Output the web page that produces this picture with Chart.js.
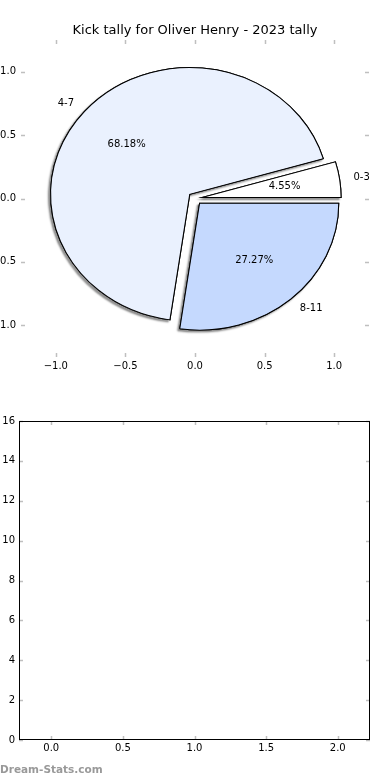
<!DOCTYPE html>
<html>
<head>
<meta charset="utf-8">
<script src="https://cdn.jsdelivr.net/npm/chart.js@4.4.0/dist/chart.umd.min.js"></script>
<style>
    body { margin: 0; background: #fff; width: 390px; height: 780px; position: relative; overflow: hidden; }
    .box { position: absolute; left: 0; width: 390px; height: 390px; }
    #pie-box { top: 0; }
    #empty-box { top: 390px; }
    #credit { position: absolute; left: 0; top: 763px; font: bold 10.5px 'DejaVu Sans', sans-serif; color: #999; }
</style>
</head>
<body>
<div class="box" id="pie-box"><canvas id="pie-chart"></canvas></div>
<div class="box" id="empty-box"><canvas id="empty-chart"></canvas></div>
<div id="credit">Dream-Stats.com</div>
<script>
const chartTitle = 'Kick tally for Oliver Henry - 2023 tally';
const kickRanges = ['0-3', '4-7', '8-11'];
const kickCounts = [1, 15, 6];
const sliceColors = ['#ffffff', '#eaf1fe', '#c5d9fe'];
const explode = [0.05, 0.05, 0.05];
const pieTicks = [-1, -0.5, 0, 0.5, 1];
const emptyXTicks = [0, 0.5, 1, 1.5, 2];
const emptyYTicks = [0, 2, 4, 6, 8, 10, 12, 14, 16];
const emptyValues = [];

Chart.defaults.font.family = "'DejaVu Sans', sans-serif";
Chart.defaults.font.size = 10;
Chart.defaults.color = '#000';

function fmtTick(v) {
    return (v < 0 ? '\u2212' : '') + Math.abs(v).toFixed(1);
}

function fixedTicks(list) {
    return scale => { scale.ticks = list.map(v => ({ value: v })); };
}

// grey inward tick marks on all four sides, optional black frame
const insideTicks = {
    id: 'insideTicks',
    afterDraw(chart, args, opts) {
        const { ctx, chartArea: a, scales } = chart;
        ctx.save();
        ctx.strokeStyle = '#bfbfbf';
        ctx.lineWidth = 1.5;
        ctx.beginPath();
        scales.x.ticks.forEach(t => {
            const px = Math.round(scales.x.getPixelForValue(t.value)) + 0.5;
            ctx.moveTo(px, a.top); ctx.lineTo(px, a.top + 4);
            ctx.moveTo(px, a.bottom); ctx.lineTo(px, a.bottom - 4);
        });
        scales.y.ticks.forEach(t => {
            const py = Math.round(scales.y.getPixelForValue(t.value)) + 0.5;
            ctx.moveTo(a.left, py); ctx.lineTo(a.left + 4, py);
            ctx.moveTo(a.right, py); ctx.lineTo(a.right - 4, py);
        });
        ctx.stroke();
        if (opts.frame) {
            ctx.strokeStyle = '#000';
            ctx.lineWidth = 1;
            ctx.strokeRect(a.left + 0.5, a.top + 0.5, a.right - a.left - 1, a.bottom - a.top - 1);
        }
        ctx.restore();
    }
};

// stretch the pie into the axes' ellipse, counter-clockwise, exploded, with shadow
const ellipsePie = {
    id: 'ellipsePie',
    beforeDatasetDraw(chart, args) {
        const { ctx, scales: { x, y } } = chart;
        const arcs = args.meta.data;
        const cx = x.getPixelForValue(0), cy = y.getPixelForValue(0);
        const rx = x.getPixelForValue(1) - cx, ry = cy - y.getPixelForValue(1);
        const place = (arc, i) => {
            const mid = (arc.startAngle + arc.endAngle) / 2;
            const r = arc.outerRadius;
            ctx.translate(cx + Math.cos(mid) * explode[i] * rx, cy - Math.sin(mid) * explode[i] * ry);
            ctx.scale(rx / r, -ry / r);
            ctx.translate(-arc.x, -arc.y);
        };
        arcs.forEach((arc, i) => {
            ctx.save();
            ctx.shadowColor = 'rgba(0,0,0,0.42)';
            ctx.shadowOffsetX = -2;
            ctx.shadowOffsetY = 2;
            ctx.shadowBlur = 2;
            place(arc, i);
            arc.draw(ctx);
            ctx.restore();
        });
        arcs.forEach((arc, i) => {
            ctx.save();
            place(arc, i);
            arc.draw(ctx);
            ctx.restore();
        });
        return false;
    },
    afterDatasetsDraw(chart) {
        const { ctx, scales: { x, y } } = chart;
        const arcs = chart.getDatasetMeta(0).data;
        const total = kickCounts.reduce((s, v) => s + v, 0);
        ctx.save();
        ctx.font = "10px 'DejaVu Sans', sans-serif";
        ctx.fillStyle = '#000';
        ctx.textBaseline = 'middle';
        arcs.forEach((arc, i) => {
            const mid = (arc.startAngle + arc.endAngle) / 2;
            const c = Math.cos(mid), s = Math.sin(mid), e = explode[i];
            ctx.textAlign = c < 0 ? 'right' : 'left';
            ctx.fillText(kickRanges[i], x.getPixelForValue((1.1 + e) * c), y.getPixelForValue((1.1 + e) * s));
            ctx.textAlign = 'center';
            const pct = (kickCounts[i] / total * 100).toFixed(2) + '%';
            ctx.fillText(pct, x.getPixelForValue((0.6 + e) * c), y.getPixelForValue((0.6 + e) * s));
        });
        ctx.restore();
    }
};

const hidden = { grid: { display: false, drawTicks: false }, border: { display: false } };

new Chart(document.querySelector('#pie-chart'), {
    type: 'pie',
    data: {
        labels: kickRanges,
        datasets: [{
            data: kickCounts,
            backgroundColor: sliceColors,
            borderColor: '#000',
            borderWidth: 1.2,
            borderJoinStyle: 'miter'
        }]
    },
    options: {
        responsive: true,
        maintainAspectRatio: false,
        animation: false,
        rotation: 90,
        plugins: {
            legend: { display: false },
            tooltip: { enabled: false },
            title: {
                display: true,
                text: chartTitle,
                color: '#000',
                font: { size: 13, weight: 'normal' },
                padding: { top: 23, bottom: 1.4 }
            }
        },
        scales: {
            x: {
                type: 'linear', position: 'bottom', min: -1.25, max: 1.25, ...hidden,
                afterBuildTicks: fixedTicks(pieTicks),
                afterFit: s => { s.height = 33; },
                ticks: { padding: 3, callback: v => fmtTick(v) }
            },
            y: {
                type: 'linear', position: 'left', min: -1.25, max: 1.25, ...hidden,
                afterBuildTicks: fixedTicks(pieTicks),
                afterFit: s => { s.width = 21; },
                ticks: { padding: 5, callback: v => fmtTick(v) }
            },
            y2: {
                type: 'linear', position: 'right', min: -1.25, max: 1.25, ...hidden,
                afterFit: s => { s.width = 21; },
                ticks: { display: false }
            }
        }
    },
    plugins: [ellipsePie, insideTicks]
});

new Chart(document.querySelector('#empty-chart'), {
    type: 'scatter',
    data: { datasets: [{ data: emptyValues }] },
    options: {
        responsive: true,
        maintainAspectRatio: false,
        animation: false,
        layout: { padding: { top: 31 } },
        plugins: {
            legend: { display: false },
            tooltip: { enabled: false },
            insideTicks: { frame: true }
        },
        scales: {
            x: {
                type: 'linear', position: 'bottom', min: -0.225, max: 2.225, ...hidden,
                afterBuildTicks: fixedTicks(emptyXTicks),
                afterFit: s => { s.height = 40; },
                ticks: { padding: 2, callback: v => v.toFixed(1) }
            },
            y: {
                type: 'linear', position: 'left', min: 0, max: 16, ...hidden,
                afterBuildTicks: fixedTicks(emptyYTicks),
                afterFit: s => { s.width = 19; },
                ticks: { padding: 4, callback: v => String(v) }
            },
            y2: {
                type: 'linear', position: 'right', min: 0, max: 16, ...hidden,
                afterFit: s => { s.width = 20; },
                ticks: { display: false }
            }
        }
    },
    plugins: [insideTicks]
});
</script>
</body>
</html>
